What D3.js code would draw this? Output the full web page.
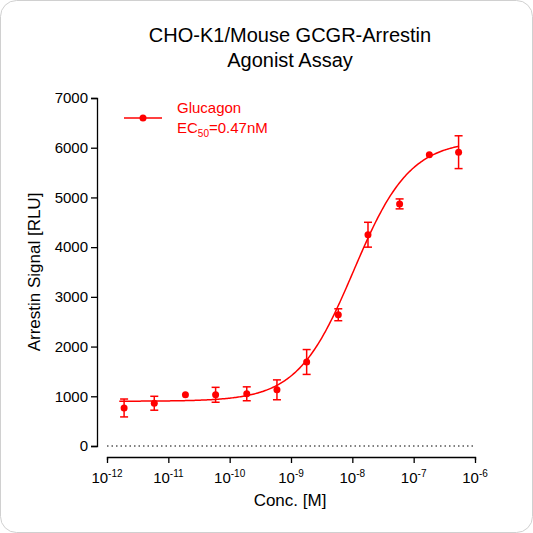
<!DOCTYPE html>
<html><head><meta charset="utf-8">
<script src="https://cdn.jsdelivr.net/npm/d3@7"></script>
<style>body{margin:0;background:#fff;font-family:Arial,"Liberation Sans",sans-serif}</style>
</head><body><svg id="c" width="533" height="533"></svg>
<script>
var conc = [1.9e-12,5.9e-12,1.9e-11,5.9e-11,1.9e-10,5.9e-10,1.8e-9,5.9e-9,1.8e-8,5.9e-8,1.8e-7,5.4e-7];
var signal = [765,860,1030,1030,1050,1130,1690,2640,4250,4870,5860,5910];
var errs = [180,140,0,150,140,200,250,120,250,100,0,330];
var fitBottom = 900, fitTop = 6150, fitEC50 = 1.05e-8, fitHill = 0.95;
var yTicks = [0,1000,2000,3000,4000,5000,6000,7000];
var red = "#ff0000";

var svg = d3.select("#c");
svg.append("rect").attr("x",0.5).attr("y",0.5).attr("width",532).attr("height",532)
	.attr("rx",16).attr("fill","#fff").attr("stroke","#d0d0d0");

var x = d3.scaleLog().domain([1e-12,1e-6]).range([107,475]);
var y = d3.scaleLinear().domain([0,7000]).range([446,98]);

svg.append("text").attr("x",290).attr("y",42).attr("text-anchor","middle")
	.attr("font-size",20).text("CHO-K1/Mouse GCGR-Arrestin");
svg.append("text").attr("x",290).attr("y",67).attr("text-anchor","middle")
	.attr("font-size",20).text("Agonist Assay");

var yAx = svg.append("g").attr("transform","translate(97,0)")
	.call(d3.axisLeft(y).tickValues(yTicks).tickFormat(d3.format("d")).tickSize(6));
yAx.selectAll("text").attr("font-size",15).attr("fill","#000");
yAx.selectAll("line,path").attr("stroke","#000").attr("stroke-width",1.3);

var xAx = svg.append("g").attr("transform","translate(0,457)")
	.call(d3.axisBottom(x).ticks(6).tickFormat("").tickSize(3));
xAx.selectAll("line,path").attr("stroke","#000").attr("stroke-width",1.3);
xAx.selectAll(".tick").filter(function(d){return Math.abs(Math.log10(d)-Math.round(Math.log10(d)))<1e-6;})
	.select("line").attr("y2",6);
[-12,-11,-10,-9,-8,-7,-6].forEach(function(e){
	var t = svg.append("text").attr("x",x(Math.pow(10,e))).attr("y",483)
		.attr("text-anchor","middle").attr("font-size",15);
	t.append("tspan").text("10");
	t.append("tspan").attr("font-size",10).attr("dy",-6).text(e);
});

svg.append("line").attr("x1",107).attr("x2",475).attr("y1",y(0)).attr("y2",y(0))
	.attr("stroke","#000").attr("stroke-dasharray","1.5,3");

svg.append("text").attr("x",290).attr("y",506).attr("text-anchor","middle")
	.attr("font-size",17).text("Conc. [M]");
svg.append("text").attr("transform","translate(40,272) rotate(-90)").attr("text-anchor","middle")
	.attr("font-size",17).text("Arrestin Signal [RLU]");

var xs = d3.range(-11.8,-6.25,0.02).map(function(l){return Math.pow(10,l);});
var line = d3.line().x(function(d){return x(d);})
	.y(function(d){return y(fitBottom+(fitTop-fitBottom)/(1+Math.pow(fitEC50/d,fitHill)));});
svg.append("path").datum(xs).attr("d",line).attr("fill","none").attr("stroke",red).attr("stroke-width",1.5);

conc.forEach(function(c,i){
	var px = x(c);
	if (errs[i] > 0){
		var g = svg.append("g").attr("stroke",red).attr("stroke-width",1.5);
		g.append("line").attr("x1",px).attr("x2",px).attr("y1",y(signal[i]-errs[i])).attr("y2",y(signal[i]+errs[i]));
		[signal[i]-errs[i],signal[i]+errs[i]].forEach(function(v){
			g.append("line").attr("x1",px-4).attr("x2",px+4).attr("y1",y(v)).attr("y2",y(v));
		});
	}
	svg.append("circle").attr("cx",px).attr("cy",y(signal[i])).attr("r",3.5).attr("fill",red);
});

svg.append("line").attr("x1",124).attr("x2",162).attr("y1",118).attr("y2",118).attr("stroke",red).attr("stroke-width",1.5);
svg.append("circle").attr("cx",143).attr("cy",118).attr("r",3.5).attr("fill",red);
svg.append("text").attr("x",177).attr("y",113).attr("font-size",15).attr("fill",red).text("Glucagon");
var lt = svg.append("text").attr("x",177).attr("y",133).attr("font-size",15).attr("fill",red);
lt.append("tspan").text("EC");
lt.append("tspan").attr("font-size",10).attr("dy",4).text("50");
lt.append("tspan").attr("dy",-4).text("=0.47nM");
</script></body></html>
